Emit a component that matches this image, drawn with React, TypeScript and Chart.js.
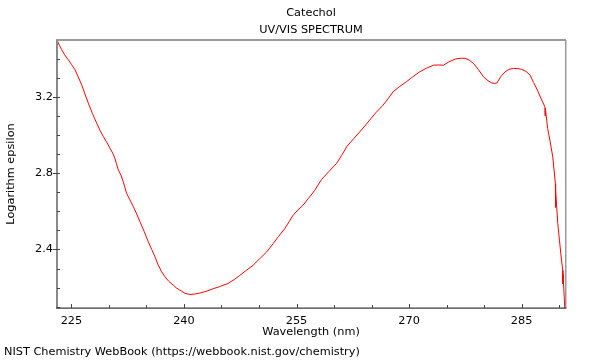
import { useEffect, useRef } from 'react';
import { Chart, registerables } from 'chart.js';

Chart.register(...registerables);

const TITLE = 'Catechol';
const SUBTITLE = 'UV/VIS SPECTRUM';
const X_LABEL = 'Wavelength (nm)';
const Y_LABEL = 'Logarithm epsilon';
const FOOTER = 'NIST Chemistry WebBook (https://webbook.nist.gov/chemistry)';

const xMajorTicks = [225, 240, 255, 270, 285];
const yMajorTicks = [2.4, 2.8, 3.2];

const wavelengths = [
  223.08, 223.4, 223.71, 224.1, 224.59, 225.0, 225.48, 225.9, 226.37, 226.8,
  227.25, 227.8, 228.37, 228.8, 229.25, 229.7, 230.14, 230.5, 230.8, 231.0,
  231.25, 231.6, 231.9, 232.36, 232.8, 233.24, 233.7, 234.13, 234.7, 235.24,
  235.7, 236.13, 236.57, 237.0, 237.46, 238.0, 238.57, 239.0, 239.46, 240.12,
  240.79, 241.4, 242.12, 243.0, 243.89, 244.9, 245.89, 246.7, 247.44, 248.3,
  249.21, 250.11, 251.0, 251.88, 252.6, 253.43, 254.0, 254.54, 255.2, 255.87,
  256.6, 257.43, 258.32, 259.3, 260.32, 261.0, 261.73, 262.6, 263.42, 264.1,
  264.75, 265.6, 266.52, 267.2, 267.85, 268.7, 269.64, 270.5, 271.41, 272.3,
  273.26, 274.0, 274.59, 275.3, 276.14, 276.8, 277.47, 278.0, 278.59, 279.2,
  279.92, 280.5, 281.02, 281.4, 281.69, 282.2, 282.8, 283.3, 283.91, 284.5,
  285.02, 285.6, 286.12, 286.6, 287.11, 287.6, 288.1, 288.13, 288.16, 288.47,
  288.8, 289.15, 289.5, 289.52, 289.54, 289.82, 290.05, 290.27, 290.48, 290.5,
  290.52, 290.75,
];

const logEpsilon = [
  3.498, 3.47, 3.447, 3.42, 3.394, 3.37, 3.342, 3.305, 3.263, 3.215,
  3.167, 3.113, 3.062, 3.025, 2.992, 2.962, 2.931, 2.905, 2.878, 2.85,
  2.817, 2.79, 2.756, 2.694, 2.66, 2.625, 2.586, 2.546, 2.494, 2.441,
  2.4, 2.362, 2.318, 2.285, 2.257, 2.232, 2.213, 2.198, 2.187, 2.17,
  2.164, 2.166, 2.171, 2.181, 2.194, 2.207, 2.222, 2.242, 2.264, 2.29,
  2.317, 2.352, 2.386, 2.43, 2.468, 2.509, 2.545, 2.579, 2.607, 2.632,
  2.668, 2.71, 2.766, 2.808, 2.85, 2.892, 2.941, 2.98, 3.016, 3.047,
  3.078, 3.118, 3.156, 3.19, 3.226, 3.253, 3.279, 3.305, 3.331, 3.35,
  3.366, 3.367, 3.366, 3.383, 3.398, 3.402, 3.402, 3.393, 3.375, 3.345,
  3.305, 3.285, 3.273, 3.27, 3.272, 3.305, 3.331, 3.344, 3.349, 3.348,
  3.344, 3.333, 3.314, 3.275, 3.235, 3.19, 3.148, 3.1, 3.14, 3.034,
  2.965, 2.885, 2.745, 2.62, 2.71, 2.535, 2.445, 2.36, 2.29, 2.22,
  2.27, 2.093,
];

const X_MIN = 223.08;
const X_MAX = 290.78;
const Y_MIN = 2.093;
const Y_MAX = 3.498;

const FONT_FAMILY = '"DejaVu Sans", sans-serif';
const FONT_SIZE = 11.3;

const framePlugin = {
  id: 'frameAndText',
  afterDatasetsDraw(chart: any) {
    const { ctx, chartArea, scales } = chart;
    const { left, right, top, bottom } = chartArea;
    const xs = scales.x;
    const ys = scales.y;
    ctx.save();
    // frame
    ctx.fillStyle = '#9a9a9a';
    ctx.fillRect(left - 1, top - 1, right - left + 2, 2);
    ctx.fillRect(right, top, 1.5, bottom - top);
    ctx.fillStyle = '#8a8a8a';
    ctx.fillRect(left - 1, top, 2, bottom - top);
    ctx.fillStyle = '#333333';
    ctx.fillRect(left - 1, bottom - 0.5, right - left + 2.5, 1.2);

    // tick marks
    ctx.strokeStyle = '#444444';
    ctx.lineWidth = 1;
    ctx.beginPath();
    for (let v = 225; v <= X_MAX; v += 5) {
      const px = Math.round(xs.getPixelForValue(v)) + 0.5;
      const major = xMajorTicks.includes(v);
      ctx.moveTo(px, bottom);
      ctx.lineTo(px, bottom - (major ? 4 : 3));
    }
    for (let i = 21; i <= 34; i++) {
      const v = i / 10;
      const py = Math.round(ys.getPixelForValue(v)) + 0.5;
      const major = yMajorTicks.some((m) => Math.abs(m - v) < 1e-6);
      ctx.moveTo(left + (major ? 3 : 3), py);
      ctx.lineTo(left - (major ? 4 : 0), py);
    }
    ctx.stroke();

    // titles and footer
    ctx.fillStyle = '#000000';
    ctx.font = `${FONT_SIZE}px ${FONT_FAMILY}`;
    ctx.textAlign = 'center';
    ctx.textBaseline = 'middle';
    const cx = (left + right) / 2;
    ctx.fillText(TITLE, cx, 13);
    ctx.fillText(SUBTITLE, cx, 30);
    ctx.textAlign = 'left';
    ctx.fillText(FOOTER, 4, 352);
    ctx.restore();
  },
};

export default function App() {
  const canvasRef = useRef<HTMLCanvasElement | null>(null);

  useEffect(() => {
    document.body.style.margin = '0';
    const canvas = canvasRef.current;
    if (!canvas) return;
    const font = { family: FONT_FAMILY, size: FONT_SIZE };
    const chart = new Chart(canvas, {
      type: 'line',
      data: {
        datasets: [
          {
            data: wavelengths.map((x, i) => ({ x, y: logEpsilon[i] })),
            borderColor: '#ff0000',
            borderWidth: 1,
            pointRadius: 0,
            tension: 0,
            fill: false,
          },
        ],
      },
      options: {
        animation: false,
        responsive: false,
        devicePixelRatio: 1,
        layout: { padding: { left: 0, right: 35, top: 40, bottom: 0 } },
        plugins: {
          legend: { display: false },
          tooltip: { enabled: false },
          title: { display: false },
        },
        scales: {
          x: {
            type: 'linear',
            position: 'bottom',
            min: X_MIN,
            max: X_MAX,
            grid: { display: false, drawTicks: false },
            border: { display: false },
            ticks: { padding: 6, font, color: '#000', maxRotation: 0, autoSkip: false },
            afterBuildTicks: (s: any) => {
              s.ticks = xMajorTicks.map((value) => ({ value }));
            },
            afterFit: (s: any) => {
              s.height = 52;
            },
            title: {
              display: true,
              text: X_LABEL,
              font,
              color: '#000',
              padding: { top: 0, bottom: 21 },
            },
          },
          y: {
            type: 'linear',
            position: 'left',
            min: Y_MIN,
            max: Y_MAX,
            grid: { display: false, drawTicks: false },
            border: { display: false },
            ticks: {
              padding: 4,
              font,
              color: '#000',
              autoSkip: false,
              callback: (v: any) => Number(v).toFixed(1),
            },
            afterBuildTicks: (s: any) => {
              s.ticks = yMajorTicks.map((value) => ({ value }));
            },
            afterFit: (s: any) => {
              s.width = 57;
            },
            title: {
              display: true,
              text: Y_LABEL,
              font,
              color: '#000',
              padding: { top: 4, bottom: 0 },
            },
          },
        },
      },
      plugins: [framePlugin],
    });
    return () => chart.destroy();
  }, []);

  return (
    <canvas
      ref={canvasRef}
      width={600}
      height={360}
      style={{ display: 'block', width: 600, height: 360 }}
    />
  );
}
